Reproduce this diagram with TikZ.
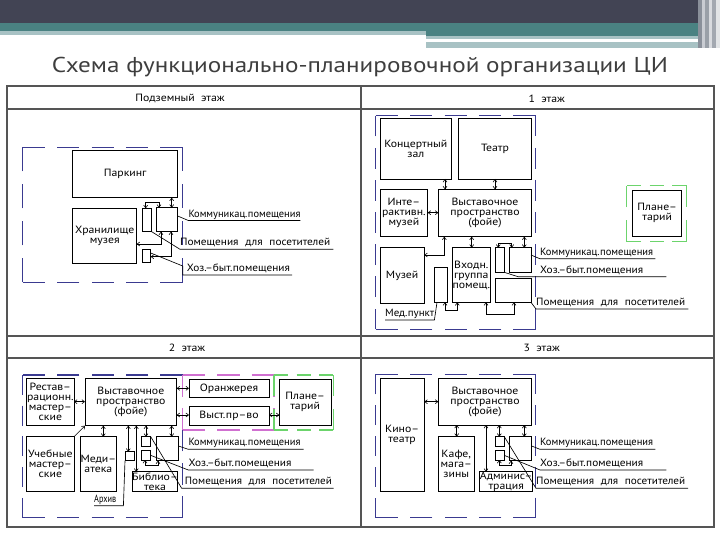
\documentclass[tikz,border=0pt]{standalone}
\usepackage{fontspec}
\setmainfont{PT Sans}
\newfontfamily\cad[FakeStretch=1.12]{PT Sans}
\newfontfamily\ttlfont{PT Sans}
\usetikzlibrary{arrows.meta}
\definecolor{hdark}{HTML}{424454}
\definecolor{hteal}{HTML}{4A8282}
\definecolor{hlight}{HTML}{A8C2C4}
\definecolor{blueD}{HTML}{3A3A90}
\definecolor{greenD}{HTML}{6CD46C}
\definecolor{magD}{HTML}{D070D0}
\definecolor{gridc}{HTML}{555555}
\definecolor{ttlc}{HTML}{3E3E3E}
\definecolor{stA}{HTML}{8A909A}
\definecolor{stB}{HTML}{C9CCD2}
\definecolor{stC}{HTML}{9AA0A8}
\definecolor{stD}{HTML}{D9DBDF}
\definecolor{stE}{HTML}{A3A8B0}
\definecolor{stF}{HTML}{E2E4E6}
\newcommand\rbox[6]{\node[rbx, minimum width={(#4-#2)*1pt}, minimum height={(#5-#3)*1pt}] (#1) at ({(#2+#4)/2},{(#3+#5)/2}) {#6};}
\newcommand\fitw[2]{\resizebox{#1}{\height}{#2}}
% one dashed side, fitted so that it starts and ends with a dash
\newcommand\dside[7]{%
  \pgfmathsetmacro\zL{veclen(#6-#4,#7-#5)}%
  \pgfmathsetmacro\zN{max(1,round((\zL+#3)/(#2+#3)))}%
  \pgfmathsetmacro\zS{\zL/(\zN*#2+(\zN-1)*#3)}%
  \pgfmathsetmacro\zD{#2*\zS}%
  \pgfmathsetmacro\zG{#3*\zS}%
  \draw[#1, dash pattern=on \zD pt off \zG pt] (#4,#5) -- (#6,#7);}
% dashed zone: style, dash, gap, x1, y1, x2, y2
\newcommand\zone[7]{%
  \dside{#1}{#2}{#3}{#4}{#5}{#6}{#5}%
  \dside{#1}{#2}{#3}{#6}{#5}{#6}{#7}%
  \dside{#1}{#2}{#3}{#6}{#7}{#4}{#7}%
  \dside{#1}{#2}{#3}{#4}{#7}{#4}{#5}}
\begin{document}
\begin{tikzpicture}[x=1pt,y=-1pt,
  cadf/.style={font=\cad\fontsize{10.5}{10}\selectfont},
  rbx/.style={draw, line width=0.95pt, inner sep=0pt, outer sep=0pt, align=center, cadf},
  dar/.style={line width=0.6pt, {Straight Barb[length=2.6pt,width=4pt]}-{Straight Barb[length=2.6pt,width=4pt]}},
  sar/.style={line width=0.6pt, -{Straight Barb[length=2.6pt,width=4pt]}},
  lead/.style={line width=0.65pt},
  lab/.style={anchor=south west, inner xsep=0pt, inner ysep=0.8pt, text depth=2.5pt, text height=7.5pt, align=left, cadf},
  hdr/.style={cadf, anchor=center},
  zoneB/.style={draw=blueD, line width=1.3pt},
  zoneG/.style={draw=greenD, line width=1.3pt},
  zoneM/.style={draw=magD, line width=1.3pt},
  gridl/.style={draw=gridc, line width=1.1pt}
]
\useasboundingbox (0,0) rectangle (720,540);
% ---------- slide header ----------
\fill[hdark] (0,0) rectangle (720,23.5);
\fill[hteal] (0,23.5) rectangle (720,31);
\fill[hlight] (0,31) rectangle (426,35);
\fill[hteal] (426,31) rectangle (720,35.7);
\fill[hlight] (426,35.7) rectangle (698,39);
\fill[hlight] (426,41.7) rectangle (698,48);
\fill[stA] (698,0) rectangle (702,48);
\fill[stB] (702,0) rectangle (705,48);
\fill[stC] (705,0) rectangle (709,48);
\fill[stD] (709,0) rectangle (712,48);
\fill[stE] (712,0) rectangle (716,48);
\fill[stF] (716,0) rectangle (720,48);
\node[text=ttlc, inner sep=0pt] (title) at (360,67.5) {\resizebox{616pt}{\height}{\ttlfont\fontsize{21.5}{24}\selectfont Схема функционально-планировочной организации ЦИ}};
% ---------- table ----------
\draw[gridl] (7,86) rectangle (714,527);
\draw[gridl] (7,109) -- (714,109);
\draw[gridl] (7,336) -- (714,336);
\draw[gridl] (7,358) -- (714,358);
\draw[gridl] (361,86) -- (361,527);
\node[hdr] (h0) at (180,98.5) {Подземный\ \ этаж};
\node[hdr] (h1) at (546.7,98.5) {1\ \ этаж};
\node[hdr] (h2) at (187,347.5) {2\ \ этаж};
\node[hdr] (h3) at (541.7,347.5) {3\ \ этаж};
% ---------- Q1: underground ----------
\zone{zoneB}{22}{12}{22.7}{147.3}{182.7}{282.3}
\rbox{park}{72.7}{150.7}{177.7}{197.7}{Паркинг}
\rbox{hran}{72.7}{208.3}{136.7}{263.3}{Хранилище\\музея}
\rbox{qat}{142.3}{208.3}{151.7}{231.7}{}
\rbox{qak}{156.7}{207.7}{177.7}{231.7}{}
\rbox{qah}{142.3}{249}{150.7}{262.3}{}
\draw[dar] (171.7,0 |- park.south) -- (171.7,0 |- qak.north);
\draw[dar] (145.7,0 |- qat.north) -- (145.7,202.3) -- (159,202.3) -- (159,0 |- qak.north);
\draw[dar] (hran.east |- 0,244) -- (161,244) -- (161,0 |- qak.south);
\draw[dar] (qah.east |- 0,256.7) -- (171,256.7) -- (171,0 |- qak.south);
\node[lab, text width=111.7pt] (lak) at (188.3,220.5) {\fitw{112pt}{Коммуникац.помещения}};
\node[lab, text width=153pt] (lap) at (180,249.3) {\fitw{150pt}{Помещения\ \ для\ \ посетителей}};
\node[lab, text width=109pt] (lah) at (182.7,275) {\hspace{4pt}\fitw{103pt}{Хоз.–быт.помещения}};
\draw[lead] (qak.east |- 0,216) -- (lak.south west) -- (lak.south east);
\draw[lead] (qat.south east) -- (lap.south west) -- (lap.south east);
\draw[lead] (qah.east |- 0,253) -- (182.7,266) -- (lah.south west) -- (lah.south east);
% ---------- Q2: 1st floor ----------
\zone{zoneB}{22}{12}{375.7}{115.7}{535.7}{329.3}
\rbox{kz}{380}{118.3}{451.7}{179}{Концертный\\зал}
\rbox{teatr}{458.3}{118.3}{531.7}{179}{Театр}
\rbox{im}{380}{189.3}{427.7}{236.7}{Инте–\\рактивн.\\музей}
\rbox{vyb}{438.3}{189.3}{531.7}{236.7}{Выставочное\\пространство\\(фойе)}
\rbox{muz}{380}{247.7}{424.3}{303.3}{Музей}
\rbox{vh}{453.3}{247.7}{489.3}{302.3}{Входн.\\группа\\помещ.}
\rbox{med}{434}{267.7}{447.7}{302.3}{}
\rbox{qbt}{495}{247.7}{504.3}{272.3}{}
\rbox{qbk}{509.3}{247.7}{531}{272.3}{}
\rbox{qbp}{495}{278.3}{531}{302.3}{}
\draw[dar] (445,0 |- kz.south) -- (445,0 |- vyb.north);
\draw[dar] (495,0 |- teatr.south) -- (495,0 |- vyb.north);
\draw[dar] (im.east |- 0,212.7) -- (vyb.west |- 0,212.7);
\draw[dar] (444.3,0 |- vyb.south) -- (444.3,255) -- (muz.east |- 0,255);
\draw[dar] (471.7,0 |- vyb.south) -- (471.7,0 |- vh.north);
\draw[dar] (524.3,0 |- vyb.south) -- (524.3,0 |- qbk.north);
\draw[dar] (498.3,0 |- qbt.north) -- (498.3,243.3) -- (511.7,243.3) -- (511.7,0 |- qbk.north);
\draw[dar] (445,0 |- med.south) -- (445,310.7) -- (457.3,310.7) -- (457.3,0 |- vh.south);
\draw[dar] (486,0 |- vh.south) -- (486,314) -- (514,314) -- (514,0 |- qbp.south);
\zone{zoneG}{17}{10}{626.7}{185.7}{686.7}{241.7}
\rbox{plan1}{632.7}{190}{681.7}{236.7}{Плане–\\тарий}
\node[lab, text width=115pt] (lbk) at (540,258.8) {\fitw{113pt}{Коммуникац.помещения}};
\node[lab, text width=126pt] (lbh) at (540,276.7) {\fitw{103pt}{Хоз.–быт.помещения}};
\node[lab, text width=152pt] (lbp) at (536,309) {\fitw{149pt}{Помещения\ \ для\ \ посетителей}};
\node[lab, text width=49pt] (lbm) at (385,320) {\fitw{49pt}{Мед.пункт}};
\draw[lead] (qbk.east |- 0,255) -- (lbk.south west) -- (lbk.south east);
\draw[lead] (qbt.south east) -- (518,276.7) -- (lbh.south east);
\draw[lead] (qbp.south east) -- (lbp.south west) -- (lbp.south east);
\draw[lead] (lbm.south west) -- (lbm.south east) -- ([xshift=3pt]med.south west);
% ---------- Q3: 2nd floor ----------
\dside{zoneB}{22}{12}{182.7}{375}{22.7}{375}
\dside{zoneB}{22}{12}{22.7}{375}{22.7}{517.7}
\dside{zoneB}{22}{12}{22.7}{517.7}{182.7}{517.7}
\dside{zoneB}{22}{12}{182.7}{517.7}{182.7}{430}
\zone{zoneM}{22}{12}{182.7}{375}{274}{430}
\zone{zoneG}{17}{10}{274}{375}{333.3}{430}
\rbox{rest}{26.7}{378.3}{74}{425.7}{Рестав–\\рационн.\\мастер–\\ские}
\rbox{vyc}{85}{378.3}{176.7}{425.7}{Выставочное\\пространство\\(фойе)}
\rbox{oran}{189}{379}{269}{397.7}{Оранжерея}
\rbox{vpr}{189}{406}{269}{425}{Выст.пр–во}
\rbox{plan2}{279.3}{379}{331}{425}{Плане–\\тарий}
\rbox{ucheb}{26.7}{436.7}{74}{491.7}{Учебные\\мастер–\\ские}
\rbox{media}{85}{436.7}{111.7}{491.7}{Меди–\\атека}
\rbox{arh}{125}{451.7}{134}{460.7}{}
\rbox{bibl}{133.3}{471.7}{176.7}{491.7}{Библио–\\тека}
\rbox{qcs}{141.7}{436.7}{150.7}{446}{}
\rbox{qch}{141.7}{450.7}{150.7}{460}{}
\rbox{qck}{156}{436.7}{178.3}{460.7}{}
\draw[dar] (rest.east |- 0,401.7) -- (vyc.west |- 0,401.7);
\draw[dar] (vyc.east |- 0,388.3) -- (oran.west |- 0,388.3);
\draw[dar] (vyc.east |- 0,415) -- (vpr.west |- 0,415);
\draw[dar] (vpr.east |- 0,415) -- (plan2.west |- 0,415);
\draw[sar] (ucheb.north east) -- (vyc.south west);
\draw[dar] (103.3,0 |- vyc.south) -- (103.3,0 |- media.north);
\draw[dar] (128.3,0 |- vyc.south) -- (128.3,0 |- arh.north);
\draw[dar] (136.3,0 |- vyc.south) -- (136.3,0 |- bibl.north);
\draw[dar] (146,0 |- vyc.south) -- (146,0 |- qcs.north);
\draw[dar] (171.7,0 |- vyc.south) -- (171.7,0 |- qck.north);
\draw[dar] (145,0 |- qch.south) -- (145,465) -- (158,465) -- (158,0 |- qck.south);
\node[lab, text width=115pt] (lck) at (188.3,449.3) {\fitw{112pt}{Коммуникац.помещения}};
\node[lab, text width=125pt] (lch) at (188.3,470) {\fitw{103pt}{Хоз.–быт.помещения}};
\node[lab, text width=151.6pt] (lcp) at (181.7,488.3) {\hspace{3pt}\fitw{147pt}{Помещения\ \ для\ \ посетителей}};
\node[lab, text width=29pt] (lca) at (94,505.7) {\fitw{22pt}{Архив}};
\draw[lead] (qck.east |- 0,446) -- (lck.south west) -- (lck.south east);
\draw[lead] (qch.east) -- (lch.south west) -- (lch.south east);
\draw[lead] (qcs.north east) -- (lcp.south west) -- (lcp.south east);
\draw[lead] (lca.south west) -- (lca.south east) -- (arh.south west);
% ---------- Q4: 3rd floor ----------
\zone{zoneB}{22}{12}{375.7}{374.3}{535.7}{517.7}
\rbox{kino}{380}{378.3}{424.3}{491.7}{Кино–\\театр}
\rbox{vyd}{438.3}{378.3}{531.7}{425}{Выставочное\\пространство\\(фойе)}
\rbox{kafe}{438.3}{436.7}{474.3}{491.7}{Кафе,\\мага–\\зины}
\rbox{adm}{480.7}{471.7}{531.7}{491.7}{Админис–\\трация}
\rbox{qds}{495}{436.7}{504.3}{446}{}
\rbox{qdh}{495}{450.7}{504.3}{460}{}
\rbox{qdk}{509.3}{436.7}{531.7}{460.7}{}
\draw[dar] (kino.east |- 0,401.7) -- (vyd.west |- 0,401.7);
\draw[dar] (456.7,0 |- vyd.south) -- (456.7,0 |- kafe.north);
\draw[dar] (486,0 |- vyd.south) -- (486,0 |- adm.north);
\draw[dar] (499.3,0 |- vyd.south) -- (499.3,0 |- qds.north);
\draw[dar] (524.3,0 |- vyd.south) -- (524.3,0 |- qdk.north);
\draw[dar] (499.3,0 |- qdh.south) -- (499.3,465) -- (511,465) -- (511,0 |- qdk.south);
\node[lab, text width=115pt] (ldk) at (540,449.3) {\fitw{113pt}{Коммуникац.помещения}};
\node[lab, text width=126pt] (ldh) at (540,470) {\fitw{103pt}{Хоз.–быт.помещения}};
\node[lab, text width=151.7pt] (ldp) at (536,488.3) {\fitw{149pt}{Помещения\ \ для\ \ посетителей}};
\draw[lead] (qdk.east |- 0,446) -- (ldk.south west) -- (ldk.south east);
\draw[lead] (qdh.east) -- (ldh.south west) -- (ldh.south east);
\draw[lead] (qds.north east) -- (ldp.south west) -- (ldp.south east);
\end{tikzpicture}
\end{document}
